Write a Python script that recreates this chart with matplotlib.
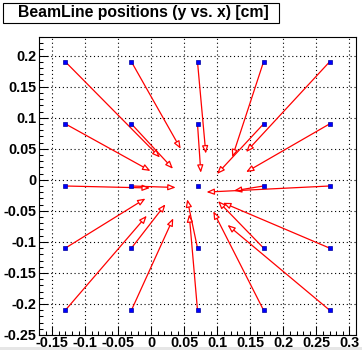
import matplotlib
matplotlib.use("Agg")
import matplotlib.pyplot as plt
from matplotlib.patches import Rectangle
from matplotlib.ticker import MultipleLocator, FuncFormatter

plt.rcParams["font.family"] = ["Liberation Sans", "DejaVu Sans"]
plt.rcParams["font.weight"] = "bold"
plt.rcParams["axes.unicode_minus"] = False

# nominal beam positions (start of each arrow)
x_start = [-0.13, -0.03, 0.07, 0.17, 0.27,
           -0.13, -0.03, 0.07, 0.17, 0.27,
           -0.13, -0.03, 0.07, 0.17, 0.27,
           -0.13, -0.03, 0.07, 0.17, 0.27,
           -0.13, -0.03, 0.07, 0.17, 0.27]
y_start = [0.19, 0.19, 0.19, 0.19, 0.19,
           0.09, 0.09, 0.09, 0.09, 0.09,
           -0.01, -0.01, -0.01, -0.01, -0.01,
           -0.11, -0.11, -0.11, -0.11, -0.11,
           -0.21, -0.21, -0.21, -0.21, -0.21]

# measured positions (arrow tips); None where no arrow is drawn
x_end = [0.0132, 0.0445, 0.0826, 0.1226, 0.1435,
         -0.0012, 0.0329, 0.0750, 0.0995, 0.1435,
         -0.0020, 0.0370, None, 0.1250, 0.0836,
         -0.0088, 0.0215, 0.0544, 0.1010, 0.1086,
         -0.0068, 0.0333, 0.0574, 0.0939, 0.1155]
y_end = [0.0359, 0.0499, 0.0422, 0.0362, 0.0447,
         0.0142, 0.0177, 0.0113, 0.0093, 0.0124,
         -0.0132, -0.0124, None, -0.0177, -0.0198,
         -0.0302, -0.0394, -0.0314, -0.0343, -0.0370,
         -0.0579, -0.0619, -0.0555, -0.0507, -0.0727]

W, H = 362, 350
fig = plt.figure(figsize=(W / 100, H / 100), dpi=100)
fig.patch.set_facecolor("white")

# thin grey strip along the bottom edge of the canvas
fig.patches.append(Rectangle((0, 0), 1, 3 / H, transform=fig.transFigure,
                             facecolor="#e6e6e6", edgecolor="none"))

ax = fig.add_axes([39 / W, 15 / H, 317 / W, 298 / H])
ax.set_xlim(-0.17, 0.31)
ax.set_ylim(-0.25, 0.23)

for xs, ys, xe, ye in zip(x_start, y_start, x_end, y_end):
    if xe is None:
        continue
    ax.annotate("", xy=(xe, ye), xytext=(xs, ys),
                arrowprops=dict(arrowstyle="-|>,head_length=0.45,head_width=0.18",
                                ec="red", fc="white", lw=0.9,
                                shrinkA=0, shrinkB=0), zorder=3)

ax.plot(x_start, y_start, ls="none", marker="s", ms=2.6,
        mfc="blue", mec="#0000a0", mew=0.5, zorder=4)

ax.xaxis.set_major_locator(MultipleLocator(0.05))
ax.xaxis.set_minor_locator(MultipleLocator(0.01))
ax.yaxis.set_major_locator(MultipleLocator(0.05))
ax.yaxis.set_minor_locator(MultipleLocator(0.01))

fmt = FuncFormatter(lambda v, pos: "%g" % (round(v, 3) + 0.0))
ax.xaxis.set_major_formatter(fmt)
ax.yaxis.set_major_formatter(fmt)

ax.tick_params(which="both", direction="in", top=False, right=False,
               labelsize=10.4, width=0.75)
ax.tick_params(axis="x", pad=0.8)
ax.tick_params(axis="y", pad=2)
ax.tick_params(which="major", length=6.5)
ax.tick_params(which="minor", length=3.2)
for lab in ax.get_xticklabels() + ax.get_yticklabels():
    lab.set_fontweight("bold")

ax.grid(True, which="major", color="black", lw=0.8, ls=(0, (1, 2.5)))
ax.set_axisbelow(True)
for sp in ax.spines.values():
    sp.set_linewidth(0.8)

# title box in the top-left corner
fig.patches.append(Rectangle((3 / W, 1 - 23 / H), 276 / W, 20 / H,
                             transform=fig.transFigure, facecolor="white",
                             edgecolor="black", lw=0.8))
fig.text(143 / W, 1 - 13 / H, "BeamLine positions (y vs. x) [cm]",
         ha="center", va="center", fontsize=11.3, fontweight="bold")

fig.savefig("out.png", dpi=100)
